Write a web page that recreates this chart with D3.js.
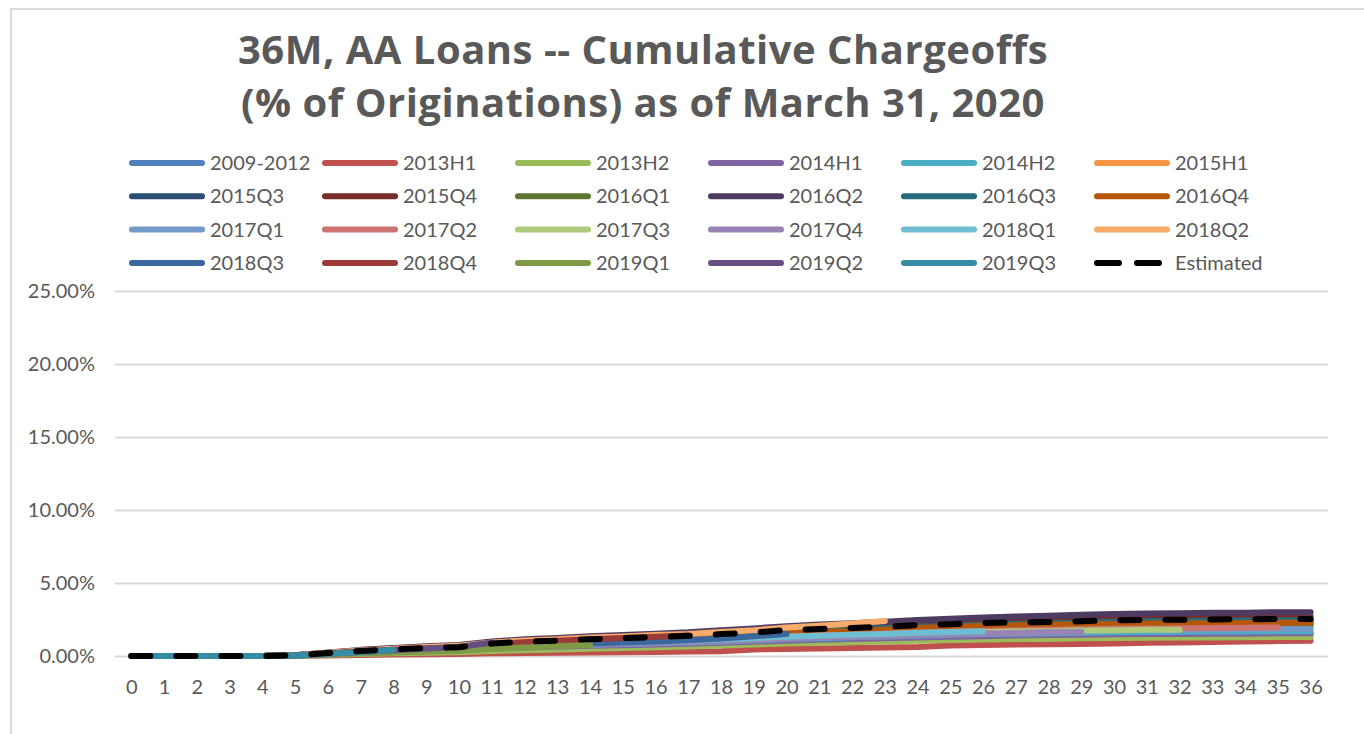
<!DOCTYPE html>
<html>
<head>
<meta charset="utf-8">
<script src="https://cdn.jsdelivr.net/npm/d3@7"></script>
<style>
  body { margin: 0; background: #fff; }
  svg text { font-family: Lato, "Open Sans", sans-serif; }
</style>
</head>
<body>
<div id="chart"></div>
<script>
// months on book
var months = d3.range(0, 37);
var yTicks = [0, 5, 10, 15, 20, 25];

// cumulative chargeoffs, % of originations, one array per vintage
var s2009_2012 = [0,0,0,0,0,.03,.12,.20,.26,.32,.36,.48,.55,.59,.65,.70,.74,.78,.86,.91,.99,1.04,1.09,1.13,1.19,1.23,1.28,1.31,1.33,1.36,1.39,1.41,1.41,1.43,1.44,1.45,1.45];
var s2013H1 = [0,0,0,0,0,.01,.04,.07,.10,.12,.14,.18,.20,.22,.24,.26,.28,.30,.32,.45,.48,.52,.55,.58,.62,.72,.75,.78,.80,.83,.86,.90,.93,.96,.99,1.02,1.05];
var s2013H2 = [0,0,0,0,0,.02,.08,.14,.18,.22,.26,.34,.40,.44,.50,.55,.60,.65,.72,.78,.85,.90,.95,1.00,1.05,1.09,1.13,1.16,1.19,1.21,1.23,1.25,1.26,1.27,1.28,1.30,1.30];
var s2014H1 = [0,0,0,0,0,.03,.12,.22,.28,.34,.39,.51,.59,.64,.70,.74,.79,.84,.91,.98,1.05,1.12,1.16,1.21,1.27,1.32,1.36,1.40,1.43,1.46,1.49,1.50,1.51,1.53,1.53,1.55,1.55];
var s2014H2 = [0,0,0,0,0,.03,.14,.24,.31,.37,.43,.56,.65,.70,.77,.82,.87,.92,1.00,1.07,1.16,1.22,1.28,1.33,1.39,1.45,1.50,1.53,1.56,1.60,1.63,1.65,1.66,1.67,1.68,1.70,1.70];
var s2015H1 = [0,0,0,0,0,.04,.16,.29,.37,.45,.51,.68,.78,.84,.92,.98,1.05,1.11,1.21,1.29,1.39,1.48,1.54,1.60,1.68,1.74,1.80,1.85,1.89,1.93,1.97,1.99,2.00,2.02,2.03,2.05,2.05];
var s2015Q3 = [0,0,0,0,0,.05,.19,.34,.43,.53,.60,.79,.91,.98,1.08,1.15,1.22,1.30,1.42,1.51,1.63,1.73,1.80,1.87,1.97,2.04,2.11,2.16,2.21,2.26,2.30,2.33,2.34,2.36,2.38,2.40,2.40];
var s2015Q4 = [0,0,0,0,0,.05,.22,.38,.49,.59,.68,.89,1.03,1.11,1.22,1.30,1.38,1.46,1.59,1.70,1.84,1.94,2.03,2.11,2.21,2.30,2.38,2.43,2.48,2.54,2.59,2.62,2.63,2.66,2.67,2.70,2.70];
var s2016Q1 = [0,0,0,0,0,.04,.17,.30,.39,.47,.54,.71,.82,.88,.97,1.03,1.10,1.16,1.27,1.35,1.46,1.55,1.61,1.68,1.76,1.83,1.89,1.94,1.98,2.02,2.06,2.09,2.10,2.12,2.13,2.15,2.15];
var s2016Q2 = [0,0,0,0,0,.06,.24,.42,.54,.66,.75,.99,1.14,1.23,1.35,1.44,1.53,1.62,1.77,1.89,2.04,2.16,2.25,2.34,2.46,2.55,2.64,2.70,2.76,2.82,2.88,2.91,2.93,2.96,2.97,3.00,3.00];
var s2016Q3 = [0,0,0,0,0,.05,.20,.34,.44,.54,.61,.81,.93,1.00,1.10,1.18,1.25,1.32,1.45,1.54,1.67,1.76,1.84,1.91,2.01,2.08,2.16,2.21,2.25,2.30,2.35,2.38,2.39,2.41,2.43,2.45,2.45];
var s2016Q4 = [0,0,0,0,0,.05,.18,.32,.41,.50,.57,.75,.87,.93,1.03,1.09,1.16,1.23,1.35,1.44,1.55,1.64,1.71,1.80,1.92,2.00,2.06,2.10,2.14,2.17,2.20,2.22,2.23,2.25,2.26,2.28,2.28];
var s2017Q1 = [0,0,0,0,0,.04,.15,.26,.33,.41,.46,.61,.70,.76,.83,.89,.94,1.00,1.09,1.17,1.26,1.33,1.39,1.44,1.52,1.57,1.63,1.67,1.70,1.74,1.78,1.79,1.80,1.82,1.83,1.85,1.85];
var s2017Q2 = [0,0,0,0,0,.04,.16,.27,.35,.43,.49,.64,.74,.80,.88,.94,.99,1.05,1.15,1.23,1.33,1.40,1.46,1.52,1.60,1.66,1.72,1.76,1.79,1.83,1.87,1.89,1.90,1.92,1.93,1.95];
var s2017Q3 = [0,0,0,0,0,.04,.15,.26,.33,.41,.46,.61,.70,.76,.83,.89,.94,1.00,1.09,1.17,1.26,1.33,1.39,1.44,1.52,1.57,1.63,1.67,1.70,1.74,1.77,1.79,1.80];
var s2017Q4 = [0,0,0,0,0,.04,.14,.25,.32,.39,.44,.58,.67,.72,.79,.84,.89,.95,1.03,1.10,1.19,1.26,1.31,1.37,1.44,1.49,1.54,1.58,1.62,1.65];
var s2018Q1 = [0,0,0,0,0,.04,.15,.27,.35,.42,.48,.64,.74,.80,.87,.93,.99,1.05,1.14,1.22,1.32,1.39,1.45,1.51,1.59,1.65,1.70];
var s2018Q2 = [0,0,0,0,0,.06,.22,.38,.50,.61,.70,.92,1.06,1.15,1.26,1.34,1.43,1.51,1.65,1.76,1.95,2.08,2.22,2.40];
var s2018Q3 = [0,0,0,0,0,.04,.14,.25,.32,.39,.45,.59,.68,.76,.85,.92,1.00,1.08,1.20,1.35,1.50];
var s2018Q4 = [0,0,0,0,0,.05,.18,.32,.42,.52,.60,.80,.95,1.05,1.15,1.23,1.32,1.40];
var s2019Q1 = [0,0,0,0,0,.03,.10,.18,.24,.30,.36,.48,.58,.66,.75];
var s2019Q2 = [0,0,0,0,0,.04,.15,.28,.40,.52,.62,.92];
var s2019Q3 = [0,0,0,0,0,.04,.15,.28,.42];
var estimated = [0,0,0,0,0,.05,.20,.35,.45,.55,.60,.85,.98,1.05,1.15,1.22,1.30,1.38,1.50,1.60,1.78,1.85,1.92,2.00,2.12,2.18,2.26,2.30,2.33,2.38,2.45,2.47,2.48,2.50,2.52,2.53,2.53];

var names = ["2009-2012","2013H1","2013H2","2014H1","2014H2","2015H1",
             "2015Q3","2015Q4","2016Q1","2016Q2","2016Q3","2016Q4",
             "2017Q1","2017Q2","2017Q3","2017Q4","2018Q1","2018Q2",
             "2018Q3","2018Q4","2019Q1","2019Q2","2019Q3","Estimated"];
var values = [s2009_2012,s2013H1,s2013H2,s2014H1,s2014H2,s2015H1,
              s2015Q3,s2015Q4,s2016Q1,s2016Q2,s2016Q3,s2016Q4,
              s2017Q1,s2017Q2,s2017Q3,s2017Q4,s2018Q1,s2018Q2,
              s2018Q3,s2018Q4,s2019Q1,s2019Q2,s2019Q3,estimated];
var colors = ["#4f81bd","#c0504d","#9bbb59","#8064a2","#4bacc6","#f79646",
              "#2c4d75","#772c2a","#5f7530","#4d3b62","#276a7c","#b65708",
              "#729aca","#cd7371","#afc97a","#9983b5","#6fbdd1","#f9ab6b",
              "#3a679c","#9c3a38","#7e9a47","#664e83","#358da5","#000000"];

var width = 1364, height = 734;

var svg = d3.select("#chart").append("svg")
    .attr("width", width)
    .attr("height", height);

// chart border
svg.append("rect")
    .attr("x", 11).attr("y", 9)
    .attr("width", 1400).attr("height", 800)
    .attr("fill", "#fff")
    .attr("stroke", "#d9d9d9")
    .attr("stroke-width", 2);

// title
var title = svg.append("text")
    .attr("text-anchor", "middle")
    .attr("fill", "#595959")
    .style("font-family", "'Open Sans', sans-serif")
    .style("font-weight", "bold")
    .style("font-size", "40px")
    .style("letter-spacing", "0.5px");
title.append("tspan").attr("x", 643).attr("y", 64).text("36M, AA Loans -- Cumulative Chargeoffs");
title.append("tspan").attr("x", 643).attr("y", 117).text("(% of Originations) as of March 31, 2020");

var x = d3.scalePoint().domain(months).range([115, 1327]).padding(0.5);
var y = d3.scaleLinear().domain([0, 25]).range([656, 291]);

// gridlines + y labels
var yAxis = svg.append("g")
    .attr("transform", "translate(115,0)")
    .call(d3.axisLeft(y).tickValues(yTicks).tickSize(-1213).tickPadding(20)
        .tickFormat(function(d) { return d.toFixed(2) + "%"; }));
yAxis.select(".domain").remove();
yAxis.selectAll("line").attr("stroke", "#d9d9d9").attr("stroke-width", 2);
yAxis.selectAll("text").attr("fill", "#595959").style("font-size", "20px");

var xAxis = svg.append("g")
    .attr("transform", "translate(0,656)")
    .call(d3.axisBottom(x).tickSize(0).tickPadding(24));
xAxis.select(".domain").remove();
xAxis.selectAll("text").attr("fill", "#595959").style("font-size", "20px");

var line = d3.line()
    .x(function(d, i) { return x(months[i]); })
    .y(function(d) { return y(d); });

values.forEach(function(v, i) {
  var p = svg.append("path")
      .datum(v)
      .attr("d", line)
      .attr("fill", "none")
      .attr("stroke", colors[i])
      .attr("stroke-width", 6)
      .attr("stroke-linejoin", "round")
      .attr("stroke-linecap", "round");
  if (names[i] === "Estimated") p.attr("stroke-dasharray", "19,26");
});

// legend, 4 rows x 6 columns
var legend = svg.append("g");
names.forEach(function(n, i) {
  var col = i % 6, row = Math.floor(i / 6);
  var lx = 132 + col * 193, ly = 163 + row * 33.3;
  var g = legend.append("g").attr("transform", "translate(" + lx + "," + ly + ")");
  var l = g.append("line")
      .attr("x1", 0).attr("x2", 70)
      .attr("stroke", colors[i])
      .attr("stroke-width", 6)
      .attr("stroke-linecap", "round");
  if (n === "Estimated") l.attr("stroke-dasharray", "22,18");
  g.append("text")
      .attr("x", 78).attr("dy", "0.35em")
      .attr("fill", "#595959")
      .style("font-size", "20px")
      .text(n);
});
</script>
</body>
</html>
